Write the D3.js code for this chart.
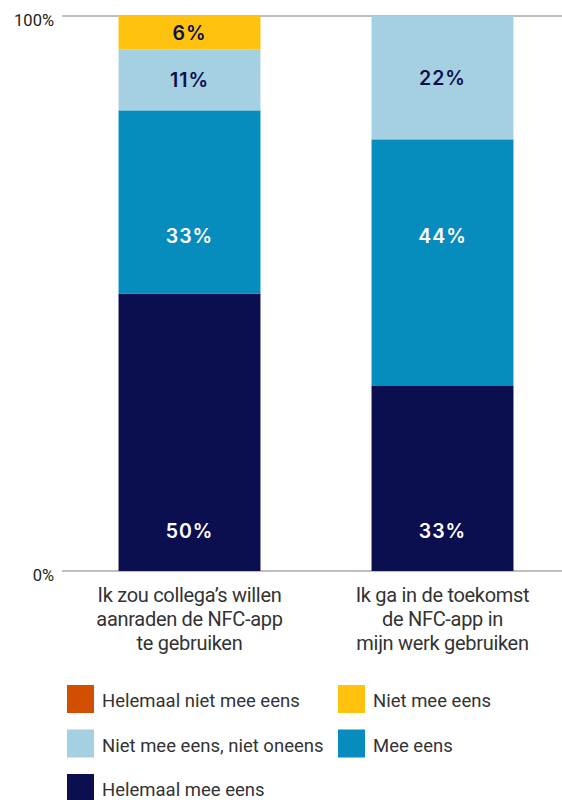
<!DOCTYPE html>
<html><head><meta charset="utf-8">
<script src="https://cdn.jsdelivr.net/npm/d3@7/dist/d3.min.js"></script>
<style>body{margin:0;background:#fff}svg{display:block}</style>
</head><body>
<svg id="c" width="562" height="800"></svg>
<script>
const categories = [
  ["Ik zou collega’s willen", "aanraden de NFC-app", "te gebruiken"],
  ["Ik ga in de toekomst", "de NFC-app in", "mijn werk gebruiken"]
];
const seriesNames = ["Helemaal mee eens", "Mee eens", "Niet mee eens, niet oneens", "Niet mee eens", "Helemaal niet mee eens"];
const seriesColors = ["#0c0f4f", "#068cbd", "#a4d0e1", "#ffc20f", "#d24e00"];
const labelColors = ["#ffffff", "#ffffff", "#0c0f4f", "#0c0f4f", "#ffffff"];
const helemaalMeeEens = [50, 33];
const meeEens = [33, 44];
const neutraal = [11, 22];
const nietMeeEens = [6, 0];
const helemaalNietMeeEens = [0, 0];
const yTicks = ["0%", "100%"];
const legendOrder = [4, 3, 2, 1, 0];

const seriesValues = [helemaalMeeEens, meeEens, neutraal, nietMeeEens, helemaalNietMeeEens];
const rows = categories.map((c, i) => {
  const r = {idx: i};
  seriesNames.forEach((s, j) => r[s] = seriesValues[j][i]);
  return r;
});
const stack = d3.stack().keys(seriesNames).offset(d3.stackOffsetExpand);
const stacked = stack(rows);

const svg = d3.select("#c");
const x = d3.scaleBand().domain([0, 1]).range([63, 569]).paddingInner(0.439).paddingOuter(0.2195);
const y = d3.scaleLinear().domain([0, 1]).range([571, 16]);

// label anchor (as fraction of axis) for the large series, others centered
const labelAnchor = [0.072, 0.604, null, null, null];

// gridlines
svg.append("g").selectAll("line").data([0, 1]).join("line")
  .attr("x1", 62).attr("x2", 562)
  .attr("y1", d => y(d)).attr("y2", d => y(d))
  .attr("stroke", "#aaaaaa").attr("stroke-width", 1.5);

// y labels
svg.append("g").selectAll("text").data([0, 1]).join("text")
  .attr("x", 54).attr("y", d => y(d) + 10)
  .attr("text-anchor", "end")
  .attr("font-family", "Roboto, sans-serif").attr("font-size", 16.5)
  .attr("fill", "#222").text((d, i) => yTicks[i]);

// bars
const g = svg.append("g");
stacked.forEach((layer, j) => {
  g.append("g").selectAll("rect").data(layer).join("rect")
    .attr("x", (d, i) => x(i)).attr("width", x.bandwidth())
    .attr("y", d => y(d[1])).attr("height", d => y(d[0]) - y(d[1]))
    .attr("fill", seriesColors[j]);
  g.append("g").selectAll("text").data(layer.filter((d, i) => seriesValues[j][i] > 0))
    .join("text")
    .attr("x", d => x(d.data.idx) + x.bandwidth() / 2)
    .attr("y", d => (labelAnchor[j] != null ? y(labelAnchor[j]) : (y(d[0]) + y(d[1])) / 2) + 7)
    .attr("text-anchor", "middle")
    .attr("font-family", "Inter, sans-serif").attr("font-weight", 560)
    .attr("font-size", 19.5).attr("letter-spacing", 1)
    .attr("fill", labelColors[j])
    .text(d => seriesValues[j][d.data.idx] + "%");
});

// category labels
categories.forEach((lines, i) => {
  const t = svg.append("text")
    .attr("text-anchor", "middle")
    .attr("font-family", "Roboto, sans-serif").attr("font-size", 20)
    .attr("letter-spacing", -0.3)
    .attr("fill", "#333");
  lines.forEach((l, k) => t.append("tspan")
    .attr("x", x(i) + x.bandwidth() / 2).attr("y", 602 + k * 24).text(l));
});

// legend
const lg = svg.append("g");
legendOrder.forEach((s, k) => {
  const col = k % 2, row = Math.floor(k / 2);
  const lx = 67 + col * 271, ly = 685 + row * 44.5;
  lg.append("rect").attr("x", lx).attr("y", ly).attr("width", 27).attr("height", 28)
    .attr("fill", seriesColors[s]);
  lg.append("text").attr("x", lx + 35).attr("y", ly + 22)
    .attr("font-family", "Roboto, sans-serif").attr("font-size", 18.5)
    .attr("fill", "#333").text(seriesNames[s]);
});
</script>
</body></html>
